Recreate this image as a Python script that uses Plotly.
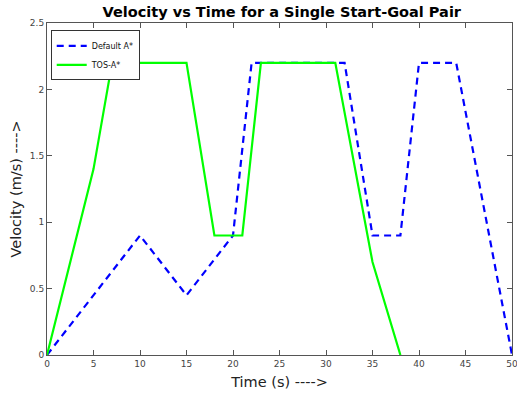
import plotly.graph_objects as go

default_t = [0, 10, 15, 20, 22, 32, 35, 38, 40, 44, 50]
default_v = [0, 0.9, 0.45, 0.9, 2.2, 2.2, 0.9, 0.9, 2.2, 2.2, 0]
tos_t = [0, 5, 7, 15, 18, 21, 23, 31, 35, 38]
tos_v = [0, 1.4, 2.2, 2.2, 0.9, 0.9, 2.2, 2.2, 0.7, 0]

x_ticks = [0, 5, 10, 15, 20, 25, 30, 35, 40, 45, 50]
y_ticks = [0, 0.5, 1, 1.5, 2, 2.5]
y_ticklabels = ["0", "0.5", "1", "1.5", "2", "2.5"]

fig = go.Figure()
fig.add_trace(go.Scatter(x=default_t, y=default_v, mode="lines", name="Default A*",
                         line=dict(color="#0000FF", width=2.2, dash="7px,5px")))
fig.add_trace(go.Scatter(x=tos_t, y=tos_v, mode="lines", name="TOS-A*",
                         line=dict(color="#00FF00", width=2.2)))

axis_common = dict(showgrid=False, zeroline=False, showline=True, linecolor="#555555",
                   linewidth=1, mirror="ticks", ticks="inside", ticklen=5,
                   tickcolor="#555555", automargin=False, ticklabeloverflow="allow",
                   tickfont=dict(size=9, color="#444444", family="DejaVu Sans"))
fig.update_xaxes(range=[0, 50], tickvals=x_ticks,
                 title=dict(text="Time (s) ---->", font=dict(size=14.5, color="#222222",
                                                              family="DejaVu Sans"),
                            standoff=9),
                 **axis_common)
fig.update_yaxes(range=[0, 2.5], tickvals=y_ticks, ticktext=y_ticklabels,
                 title=dict(text="Velocity (m/s) ---->", font=dict(size=14.5, color="#222222",
                                                                    family="DejaVu Sans"),
                            standoff=4),
                 **axis_common)

fig.update_layout(
    width=517, height=397,
    margin=dict(l=47, r=5, t=23, b=42),
    paper_bgcolor="white", plot_bgcolor="white",
    title=dict(text="<b>Velocity vs Time for a Single Start-Goal Pair</b>",
               x=0.545, xanchor="center", y=0.97, yanchor="middle",
               font=dict(size=14.5, color="black", family="DejaVu Sans")),
    legend=dict(x=0.008, y=0.978, xanchor="left", yanchor="top",
                bgcolor="white", bordercolor="#333333", borderwidth=1,
                font=dict(size=8, color="#111111", family="DejaVu Sans"),
                tracegroupgap=0, itemwidth=30),
    showlegend=True,
)

fig.write_html("out.html", config={"displayModeBar": False},
               post_script="document.body.style.margin='0';")
